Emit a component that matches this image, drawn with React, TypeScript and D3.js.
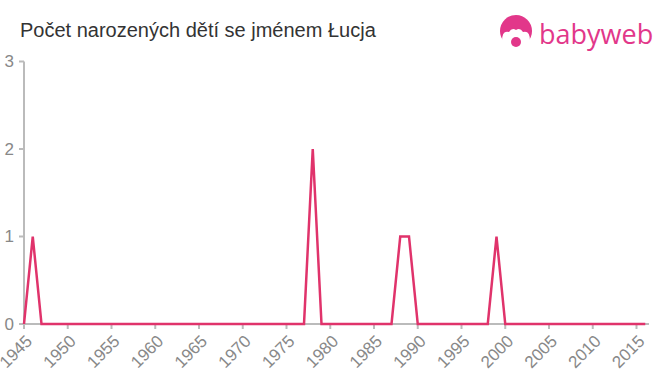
import React from "react";
import * as d3 from "d3";

const years: number[] = [];
for (let y = 1945; y <= 2016; y++) years.push(y);
const nonZero: Record<number, number> = { 1946: 1, 1978: 2, 1988: 1, 1989: 1, 1999: 1 };
const values: number[] = years.map((y) => nonZero[y] ?? 0);
const xTicks = [1945, 1950, 1955, 1960, 1965, 1970, 1975, 1980, 1985, 1990, 1995, 2000, 2005, 2010, 2015];
const yTicks = [0, 1, 2, 3];
const title = "Počet narozených dětí se jménem Łucja";

export default function App() {
  const W = 660, H = 375;
  const x = d3.scaleLinear().domain([1945, 2015]).range([24, 636.5]);
  const y = d3.scaleLinear().domain([0, 3]).range([324, 61.5]);
  const line = d3.line<number>().x((_, i) => x(years[i])).y((d) => y(d));
  const axisColor = "#bbbbbb";
  const labelColor = "#888888";
  return (
    <svg width={W} height={H} style={{ position: "absolute", left: 0, top: 0, fontFamily: "'Liberation Sans', Arial, sans-serif" }}>
      <rect width={W} height={H} fill="#fff" />
      <text x={20} y={37} fontSize={20} fill="#333">{title}</text>
      {/* logo */}
      <g>
        <circle cx={516} cy={31} r={16} fill="#e2378a" />
        <path d="M502,41 Q502,30 509,32 Q512,27 516,30 Q520,27 523,32 Q530,30 530,41 Q525,48 516,48 Q507,48 502,41 Z" fill="#fff" />
        <circle cx={516} cy={42} r={5} fill="#e2378a" />
        <text x={539} y={44} fontSize={27} fill="#e2378a" fontFamily="'Open Sans', 'Noto Sans', sans-serif">babyweb</text>
      </g>
      {/* y axis */}
      <line x1={24} x2={24} y1={61.5} y2={324} stroke={axisColor} strokeWidth={2} />
      {yTicks.map((t) => (
        <g key={t}>
          <line x1={19} x2={24} y1={y(t)} y2={y(t)} stroke={axisColor} strokeWidth={2} />
          <text x={14} y={y(t)} dy="0.35em" textAnchor="end" fontSize={17} fill={labelColor}>{t}</text>
        </g>
      ))}
      {/* x axis */}
      <line x1={24} x2={649} y1={324} y2={324} stroke={axisColor} strokeWidth={2} />
      {xTicks.map((t) => (
        <g key={t}>
          <line x1={x(t)} x2={x(t)} y1={324} y2={329} stroke={axisColor} strokeWidth={2} />
          <text transform={`translate(${x(t) + 5},${338}) rotate(-45)`} textAnchor="end" dy="0.35em" fontSize={17} fill={labelColor}>{t}</text>
        </g>
      ))}
      <path d={line(values) ?? ""} fill="none" stroke="#e0336b" strokeWidth={2.5} strokeLinejoin="miter" />
    </svg>
  );
}
